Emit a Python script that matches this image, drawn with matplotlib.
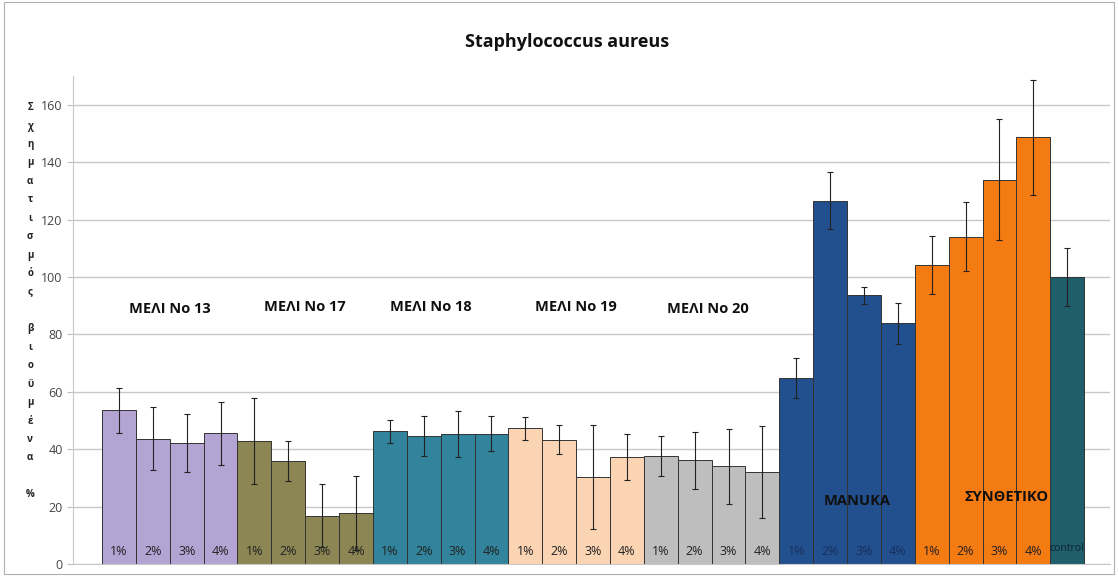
import numpy as np
import matplotlib.pyplot as plt
from matplotlib.patches import Rectangle

plt.rcParams['font.family'] = ['Open Sans', 'DejaVu Sans']

groups = ["ΜΕΛΙ No 13", "ΜΕΛΙ No 17", "ΜΕΛΙ No 18", "ΜΕΛΙ No 19", "ΜΕΛΙ No 20", "MANUKA", "ΣΥΝΘΕΤΙΚΟ"]
conc = ["1%", "2%", "3%", "4%"]
means = [
    [53.5, 43.6, 42.2, 45.6],
    [43.0, 35.8, 16.8, 17.8],
    [46.2, 44.7, 45.2, 45.4],
    [47.3, 43.3, 30.3, 37.3],
    [37.5, 36.1, 34.0, 32.0],
    [64.7, 126.6, 93.6, 83.8],
    [104.2, 114.0, 133.9, 148.6],
]
errors = [
    [7.8, 11.0, 10.0, 11.0],
    [15.0, 7.0, 11.0, 13.0],
    [4.0, 7.0, 8.0, 6.0],
    [4.0, 5.0, 18.0, 8.0],
    [7.0, 10.0, 13.0, 16.0],
    [7.0, 10.0, 3.0, 7.0],
    [10.0, 12.0, 21.0, 20.0],
]
control_mean = 100.0
control_err = 10.0
colors = ["#b3a4d3", "#8b8654", "#31849b", "#fbd4b4", "#bebebe", "#22508e", "#f47a12"]
control_color = "#1f5f6b"

fig = plt.figure(figsize=(11.18, 5.76), dpi=100)
ax = fig.add_axes([0.0653, 0.0208, 0.9277, 0.8472])

x = 0
for g, name in enumerate(groups):
    xs = np.arange(x, x + 4)
    ax.bar(xs, means[g], width=1.0, color=colors[g], edgecolor="#333333", linewidth=0.7, zorder=2)
    ax.errorbar(xs, means[g], yerr=errors[g], fmt="none", ecolor="#222222",
                elinewidth=0.8, capsize=2.5, capthick=0.8, zorder=3)
    lbl_color = "#17305c" if g == 5 else "#222222"
    for xi, c in zip(xs, conc):
        ax.text(xi, 4.5, c, ha="center", va="center", fontsize=9,
                color=lbl_color, zorder=4)
    x += 4

ax.bar(x, control_mean, width=1.0, color=control_color, edgecolor="#333333", linewidth=0.7, zorder=2)
ax.errorbar(x, control_mean, yerr=control_err, fmt="none", ecolor="#222222",
            elinewidth=0.8, capsize=2.5, capthick=0.8, zorder=3)
ax.text(x, 5.5, "control", ha="center", va="center", fontsize=7.5, color="#102030", zorder=4)

label_pos = [(1.5, 89), (5.5, 89.5), (9.2, 89.5), (13.5, 89.5), (17.4, 89), (21.8, 22), (26.2, 23.5)]
for name, (lx, ly) in zip(groups, label_pos):
    ax.text(lx, ly, name, ha="center", va="center", fontsize=10.5, fontweight="bold",
            color="#101010", zorder=4)

ax.set_xlim(-1.357, 29.27)
ax.set_ylim(0, 170)
ax.set_yticks(np.arange(0, 161, 20))
ax.yaxis.grid(True, color="#c8c8c8", linewidth=1.0, zorder=0)
ax.set_axisbelow(True)
ax.set_xticks([])
ax.tick_params(axis="y", labelsize=9, colors="#444444", length=4, color="#c0c0c0")
for s in ["top", "right"]:
    ax.spines[s].set_visible(False)
ax.spines["left"].set_color("#c8c8c8")
ax.spines["bottom"].set_color("#c8c8c8")

# stacked vertical axis title, one letter per line
ylabel = "Σχηματισμός βιοϋμένα %"
stacked = "\n".join(ylabel)
fig.text(0.027, 0.477, stacked, ha="center", va="center", fontsize=7,
         fontweight="bold", color="#222222", linespacing=1.93)

fig.text(0.507, 0.927, "Staphylococcus aureus", ha="center", va="center",
         fontsize=13, fontweight="bold", color="#111111")

fig.patches.append(Rectangle((0.004, 0.004), 0.992, 0.992, transform=fig.transFigure,
                             fill=False, edgecolor="#b0b0b0", linewidth=0.8))

fig.savefig("out.png", dpi=100)
